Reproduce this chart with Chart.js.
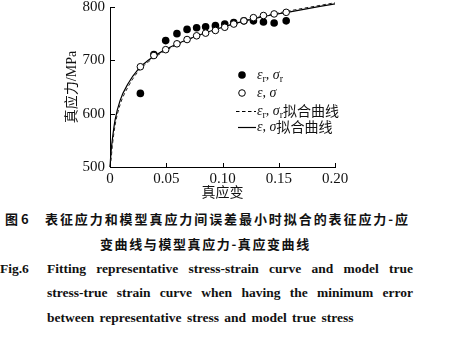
<!DOCTYPE html>
<html><head><meta charset="utf-8">
<script src="https://cdn.jsdelivr.net/npm/chart.js@4"></script>
<style>
html,body{margin:0;padding:0;background:#fff;width:457px;height:344px;overflow:hidden;position:relative}
#wrap{position:absolute;left:0;top:0;width:457px;height:200px}
.cap{position:absolute;color:#111;white-space:nowrap}
.zh{font-family:'Noto Sans CJK SC';font-weight:700;font-size:13px;line-height:16px}
.en{font-family:'Liberation Serif';font-weight:700;font-size:13.5px;line-height:16px}
.j{text-align:justify;text-align-last:justify;white-space:normal}
</style></head><body>
<div id="wrap"><canvas id="c" width="457" height="200" style="width:457px;height:200px"></canvas></div>
<div class="cap zh" style="left:5px;top:211px">图 6</div>
<div class="cap zh j" style="left:45px;top:211px;width:363px">表征应力和模型真应力间误差最小时拟合的表征应力-应</div>
<div class="cap zh" style="left:100px;top:236px;letter-spacing:1.6px">变曲线与模型真应力-真应变曲线</div>
<div class="cap en" style="left:0px;top:261px">Fig.6</div>
<div class="cap en j" style="left:47px;top:261px;width:366px">Fitting representative stress-strain curve and model true</div>
<div class="cap en j" style="left:47px;top:285px;width:366px">stress-true strain curve when having the minimum error</div>
<div class="cap en" style="left:47px;top:310px;word-spacing:2px">between representative stress and model true stress</div>
<script>
// ---- data ----
const strain      = [0.027,0.039,0.0495,0.0595,0.0685,0.077,0.085,0.0937,0.102,0.110,0.119,0.1275,0.1364,0.1459,0.1566];
const repStress   = [638,711,737,750,758,761,763,765,768,771,774,774,772,770,774];   // εr, σr (filled)
const trueStress  = [688,709,720,731,739,746,751,756,762,768,774,780,784,787,790];   // ε, σ (hollow)
const fitStrain   = [0,0.001,0.002,0.0045,0.009,0.016,0.025,0.034,0.05,0.07,0.1,0.13,0.16,0.2];
const fitRep      = [500,515,538,578,617,650,679,697,719,739,762,780,793,808];      // dashed
const fitTrue     = [500,530,550,588,625,656,683,700,721,740,762,779,791,806];      // solid
const xTicks      = [0,0.05,0.10,0.15,0.20];
const xTickLabels = ['0','0.05','0.10','0.15','0.20'];
const yTicks      = [500,600,700,800];
const yTickLabels = ['500','600','700','800'];
const xTitle = '真应变';
const yTitle = '真应力/MPa';

const pts = (xs, ys) => xs.map((x, i) => ({x, y: ys[i]}));

const decor = {
  id: 'decor',
  afterDraw(chart) {
    const ctx = chart.ctx, xs = chart.scales.x, ys = chart.scales.y, a = chart.chartArea;
    ctx.save();
    ctx.strokeStyle = '#000'; ctx.lineWidth = 1;
    // inward ticks
    xTicks.forEach(v => { const px = Math.round(xs.getPixelForValue(v)) + 0.5;
      ctx.beginPath(); ctx.moveTo(px, a.bottom); ctx.lineTo(px, a.bottom - 4); ctx.stroke(); });
    yTicks.forEach(v => { const py = Math.round(ys.getPixelForValue(v)) + 0.5;
      ctx.beginPath(); ctx.moveTo(a.left, py); ctx.lineTo(a.left + 5, py); ctx.stroke(); });
    // axis titles
    ctx.fillStyle = '#111';
    ctx.font = "14px 'Liberation Serif','Noto Sans CJK SC'";
    ctx.textAlign = 'center'; ctx.textBaseline = 'middle';
    ctx.fillText(xTitle, (a.left + a.right) / 2, 193);
    ctx.translate(72, 87); ctx.rotate(-Math.PI / 2);
    ctx.fillText(yTitle, 0, 0);
    ctx.restore();

    // legend
    ctx.save();
    ctx.fillStyle = '#111'; ctx.strokeStyle = '#000';
    ctx.textBaseline = 'alphabetic'; ctx.textAlign = 'left';
    const it = "italic 14px 'Liberation Serif'", sub = "10px 'Liberation Serif'",
          rm = "14px 'Liberation Serif'", zh = "14px 'Noto Sans CJK SC'";
    function run(x, y, parts) {
      parts.forEach(([t, f, dy]) => { ctx.font = f; ctx.fillText(t, x, y + (dy || 0)); x += ctx.measureText(t).width; });
    }
    const tx = 257;
    const rows = [75, 93, 111, 127];
    // row 1 filled
    ctx.beginPath(); ctx.arc(242, rows[0], 3.8, 0, Math.PI * 2); ctx.fillStyle = '#000'; ctx.fill();
    ctx.fillStyle = '#111';
    run(tx, rows[0] + 4, [['ε', it], ['r', sub, 3], [', ', rm], ['σ', it], ['r', sub, 3]]);
    // row 2 hollow
    ctx.beginPath(); ctx.arc(242, rows[1], 3.3, 0, Math.PI * 2); ctx.lineWidth = 1; ctx.stroke();
    run(tx, rows[1] + 4, [['ε', it], [', ', rm], ['σ', it]]);
    // row 3 dashed
    ctx.setLineDash([3.5, 2.5]); ctx.lineWidth = 1;
    ctx.beginPath(); ctx.moveTo(236, rows[2] + 0.5); ctx.lineTo(256, rows[2] + 0.5); ctx.stroke();
    ctx.setLineDash([]);
    run(tx, rows[2] + 4, [['ε', it], ['r', sub, 3], [', ', rm], ['σ', it], ['r', sub, 3], ['拟合曲线', zh, 1]]);
    // row 4 solid
    ctx.lineWidth = 1.2;
    ctx.beginPath(); ctx.moveTo(238, rows[3] + 0.5); ctx.lineTo(256, rows[3] + 0.5); ctx.stroke();
    run(tx, rows[3] + 4, [['ε', it], [', ', rm], ['σ', it], ['拟合曲线', zh, 1]]);
    ctx.restore();
  }
};

new Chart(document.getElementById('c'), {
  type: 'scatter',
  data: { datasets: [
    { label: 'ε, σ', data: pts(strain, trueStress), order: 0, showLine: false,
      pointRadius: 3.3, pointBackgroundColor: '#fff', pointBorderColor: '#000', pointBorderWidth: 1 },
    { label: 'εr, σr 拟合曲线', data: pts(fitStrain, fitRep), order: 1, showLine: true, clip: 12,
      borderColor: '#222', borderWidth: 1, borderDash: [3.5, 2.5], pointRadius: 0, cubicInterpolationMode: 'monotone' },
    { label: 'ε, σ 拟合曲线', data: pts(fitStrain, fitTrue), order: 2, showLine: true, clip: 12,
      borderColor: '#000', borderWidth: 1.2, pointRadius: 0, cubicInterpolationMode: 'monotone' },
    { label: 'εr, σr', data: pts(strain, repStress), order: 3, showLine: false,
      pointRadius: 3.8, pointBackgroundColor: '#000', pointBorderColor: '#000', pointBorderWidth: 0 }
  ]},
  options: {
    responsive: false, animation: false, devicePixelRatio: 1,
    layout: { padding: { left: 0, top: 7, right: 122, bottom: 0 } },
    plugins: { legend: { display: false }, tooltip: { enabled: false } },
    scales: {
      x: { type: 'linear', min: 0, max: 0.2,
        afterBuildTicks: s => { s.ticks = xTicks.map(v => ({value: v})); },
        afterFit: s => { s.height = 33; s.paddingLeft = 0; s.paddingRight = 0; },
        grid: { display: false, drawTicks: false },
        border: { display: true, color: '#000', width: 1 },
        ticks: { padding: 3, color: '#111', font: { family: 'Liberation Serif', size: 15 },
          callback: (v) => xTickLabels[xTicks.indexOf(v)] ?? '' } },
      y: { type: 'linear', min: 500, max: 800,
        afterBuildTicks: s => { s.ticks = yTicks.map(v => ({value: v})); },
        afterFit: s => { s.width = 110; s.paddingTop = 0; s.paddingBottom = 0; },
        grid: { display: false, drawTicks: false },
        border: { display: true, color: '#000', width: 1 },
        ticks: { padding: 5, color: '#111', font: { family: 'Liberation Serif', size: 15 },
          callback: (v) => yTickLabels[yTicks.indexOf(v)] ?? '' } }
    }
  },
  plugins: [decor]
});
</script>
</body></html>
